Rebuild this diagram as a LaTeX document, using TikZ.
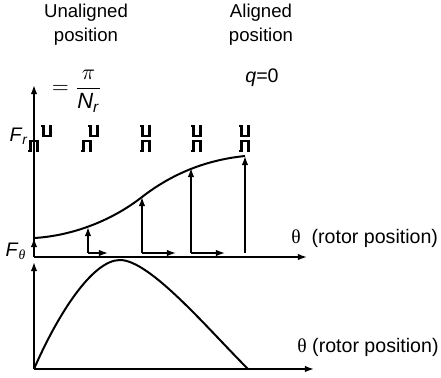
\documentclass[tikz,border=0pt]{standalone}
\usepackage{amsmath}
\usepackage{fontspec}
\setmainfont{Liberation Sans}
\newfontfamily\grfont{Liberation Serif}
\usetikzlibrary{arrows.meta}

\begin{document}
\begin{tikzpicture}[x=0.5pt,y=-0.5pt,
  axis/.style={line width=0.8pt,-{Latex[length=4.5pt,width=3.2pt]}},
  force/.style={line width=0.7pt,-{Latex[length=4.5pt,width=3.2pt]}},
  curve/.style={line width=1pt},
  tooth/.style={line width=1.2pt},
  lbl/.style={font=\fontsize{9.8}{12}\selectfont,inner sep=0pt,align=center},
  head/.style={lbl,font=\fontsize{9.3}{12}\selectfont}]
  \useasboundingbox (0,0) rectangle (441,377);
  % axes
  \coordinate (o1) at (34,257); \coordinate (y1) at (34,85);  \coordinate (x1) at (307,257);
  \coordinate (o2) at (34,369); \coordinate (y2) at (34,262); \coordinate (x2) at (314,369);
  \draw[axis] (o1) -- (y1);  \draw[axis] (o1) -- (x1);
  \draw[axis] (o2) -- (y2);  \draw[axis] (o2) -- (x2);
  % stator / rotor teeth
  \foreach \x/\s in {34/47,87/94,146/146,197/197,245/245} {
    \draw[tooth] (\x-5.5,151) -- ++(2,0) -- ++(0,-10) -- ++(7,0) -- ++(0,10) -- ++(2,0);
    \draw[tooth] (\s-5.5,126) -- ++(2,0) -- ++(0,10) -- ++(7,0) -- ++(0,-10) -- ++(2,0);}
  % radial force curve and its components
  \foreach \i/\x/\y in {1/34/238,2/88/227,3/142/197,4/191/168,5/245/156} {
    \coordinate (c\i) at (\x,\y); \coordinate (b\i) at (\x,253);}
  \draw[curve] (c1) .. controls (70,236) and (110,222) .. (c3)
    .. controls (171,174.5) and (205,160) .. (c5);
  \draw[force] (o1) -- (c1);
  \foreach \i in {2,...,5} \draw[force] (b\i) -- (c\i);
  \coordinate (h2) at (108,253); \coordinate (h3) at (176,253); \coordinate (h4) at (225,253);
  \foreach \i in {2,3,4} \draw[force] (b\i) -- (h\i);
  % tangential force
  \coordinate (pk) at (120,260); \coordinate (z2) at (248,369);
  \draw[curve] (o2) .. controls (57,316) and (92,260) .. (pk)
    .. controls (150,260) and (208,329) .. (z2);
  % labels
  \node[head] (unal) at (86,25) {Unaligned\\position};
  \node[head] (al) at (261,25) {Aligned\\position};
  \node[lbl,font=\fontsize{11}{13}\selectfont] (frac) at (77,91)
    {$=\dfrac{\pi}{\text{\textit{N}}_{\text{\textit{r}}}}$};
  \node[lbl] (q0) at (262,78) {\textit{q}=0};
  \node[lbl] (fr) at (19,136) {\textit{F}\textsubscript{\textit{r}}};
  \node[lbl] (ft) at (16,251) {\textit{F}\textsubscript{\grfont\itshape θ}};
  \node[lbl,anchor=west] (th1) at (291,238) {{\grfont θ}\ \ (rotor position)};
  \node[lbl,anchor=west] (th2) at (297,347) {{\grfont θ} (rotor position)};
\end{tikzpicture}
\end{document}
